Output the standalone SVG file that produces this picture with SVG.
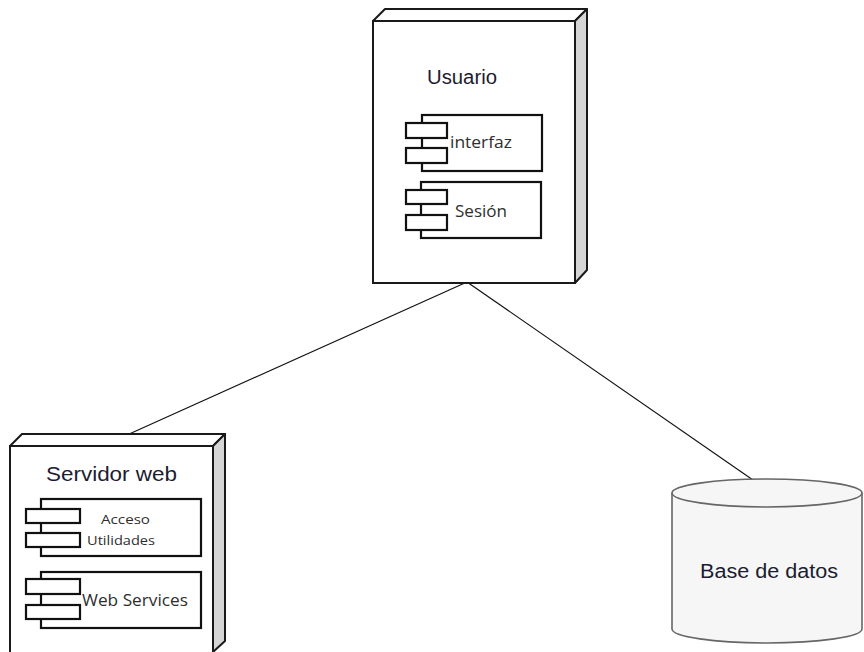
<svg xmlns="http://www.w3.org/2000/svg" width="864" height="652" viewBox="0 0 864 652">
<style>
.front{fill:#fff;stroke:#1a1a1a;stroke-width:2}
.top{fill:#fff;stroke:#1a1a1a;stroke-width:2;stroke-linejoin:round}
.side{fill:#d6d6d6;stroke:#1a1a1a;stroke-width:2;stroke-linejoin:round}
.comp{fill:#fff;stroke:#111;stroke-width:2.2}
.title{font-family:"Liberation Sans",Arial,sans-serif;fill:#1c1c30}
.lbl{font-family:"Open Sans","Noto Sans",sans-serif;fill:#2e2e2e}
.conn{stroke:#111;stroke-width:1.2;fill:none}
</style>
<rect width="864" height="652" fill="#fff"/>
<g id="connectors">
<line class="conn" x1="467" y1="282" x2="127" y2="435"/>
<line class="conn" x1="467" y1="282" x2="753" y2="480"/>
</g>
<g id="usuario">
<polygon class="top" points="373,21 385,9 587,9 575,21"/>
<polygon class="side" points="575,21 587,9 587,270 575,283"/>
<rect class="front" x="373" y="21" width="202" height="262"/>
<text class="title" x="427" y="84" font-size="20" textLength="70" lengthAdjust="spacingAndGlyphs">Usuario</text>
<g id="interfaz">
<rect class="comp" x="422" y="115" width="120" height="56"/>
<rect class="comp" x="406" y="123" width="41" height="15"/>
<rect class="comp" x="406" y="148" width="41" height="15"/>
<text class="lbl" x="450" y="148" font-size="16" textLength="62" lengthAdjust="spacingAndGlyphs">interfaz</text>
</g>
<g id="sesion">
<rect class="comp" x="421" y="182" width="120" height="56"/>
<rect class="comp" x="406" y="190" width="41" height="14"/>
<rect class="comp" x="406" y="215" width="41" height="15"/>
<text class="lbl" x="455" y="217" font-size="16" textLength="52" lengthAdjust="spacingAndGlyphs">Sesión</text>
</g>
</g>
<g id="servidor">
<polygon class="top" points="10,446 22,434 225,434 213,446"/>
<polygon class="side" points="213,446 225,434 225,641 213,652"/>
<rect class="front" x="10" y="446" width="203" height="208"/>
<text class="title" x="46" y="481" font-size="21" textLength="131" lengthAdjust="spacingAndGlyphs">Servidor web</text>
<g id="acceso">
<rect class="comp" x="41" y="499" width="160" height="57"/>
<rect class="comp" x="26" y="509" width="54" height="14"/>
<rect class="comp" x="26" y="533" width="54" height="14"/>
<text class="lbl" x="101" y="524" font-size="12.5" textLength="49" lengthAdjust="spacingAndGlyphs">Acceso</text>
<text class="lbl" x="87" y="545" font-size="12.5" textLength="68" lengthAdjust="spacingAndGlyphs">Utilidades</text>
</g>
<g id="webservices">
<rect class="comp" x="41" y="572" width="160" height="56"/>
<rect class="comp" x="26" y="579" width="54" height="15"/>
<rect class="comp" x="26" y="605" width="54" height="14"/>
<text class="lbl" x="82" y="606" font-size="16" textLength="106" lengthAdjust="spacingAndGlyphs">Web Services</text>
</g>
</g>
<g id="basedatos">
<path d="M672,493 L672,629 A95,14 0 0 0 862,629 L862,493" fill="#f6f6f6" stroke="#666" stroke-width="1.6"/>
<ellipse cx="767" cy="493" rx="95" ry="14" fill="#f6f6f6" stroke="#666" stroke-width="1.6"/>
<text class="title" x="700" y="578" font-size="20" textLength="138" lengthAdjust="spacingAndGlyphs">Base de datos</text>
</g>
</svg>
